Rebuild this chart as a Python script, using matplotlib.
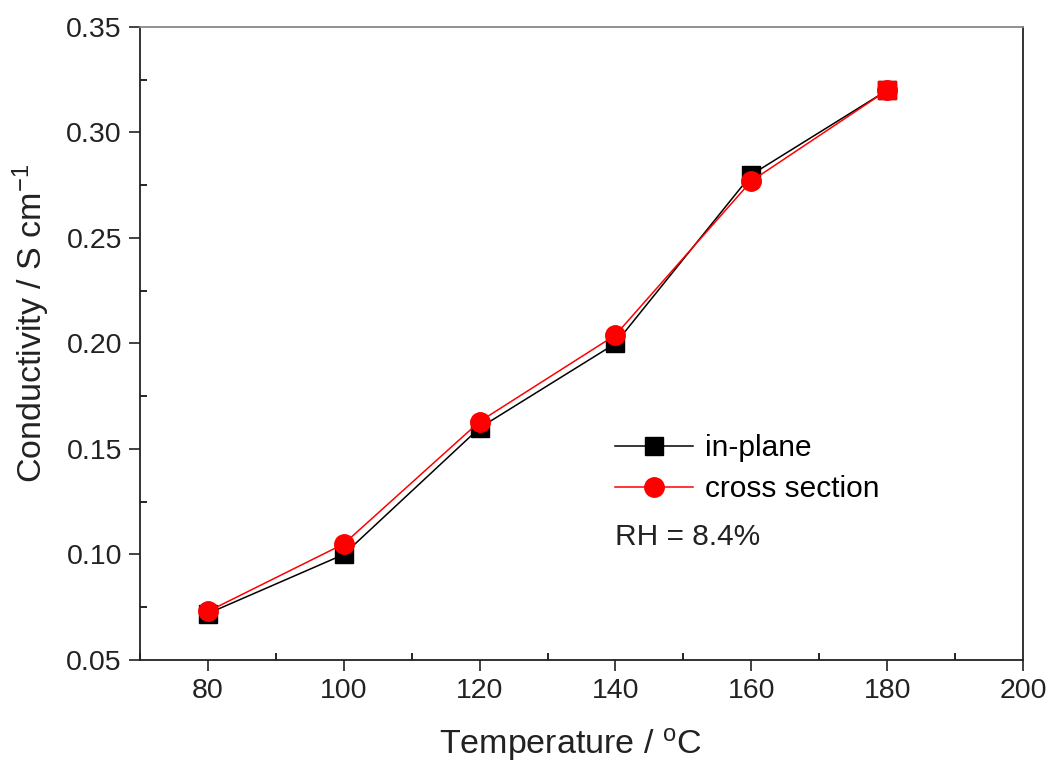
import matplotlib
matplotlib.use("Agg")
import matplotlib.pyplot as plt
from matplotlib.ticker import MultipleLocator, FormatStrFormatter

# data
temperature = [80, 100, 120, 140, 160, 180]
in_plane = [0.072, 0.100, 0.160, 0.200, 0.280, 0.320]
cross_section = [0.073, 0.105, 0.163, 0.204, 0.277, 0.320]

plt.rcParams['font.family'] = ['Liberation Sans', 'DejaVu Sans']
plt.rcParams['mathtext.fontset'] = 'custom'
plt.rcParams['mathtext.rm'] = 'Liberation Sans'
plt.rcParams['mathtext.it'] = 'Liberation Sans'

fig = plt.figure(figsize=(10.5, 7.65), dpi=100)
ax = fig.add_axes([0.1333, 0.1373, 0.8410, 0.8274])

ax.plot(temperature, in_plane, color='black', lw=1.1, marker='s', ms=13,
        label='in-plane', zorder=3)
ax.plot(temperature, cross_section, color='red', lw=1.1, marker='o', ms=14,
        label='cross section', zorder=4)
# last point of the red series is drawn as a square in the original
ax.plot(temperature[-1:], cross_section[-1:], color='red', marker='s', ms=13,
        ls='none', zorder=5)

ax.set_xlim(70, 200)
ax.set_ylim(0.05, 0.35)
ax.xaxis.set_major_locator(MultipleLocator(20))
ax.xaxis.set_minor_locator(MultipleLocator(10))
ax.yaxis.set_major_locator(MultipleLocator(0.05))
ax.yaxis.set_minor_locator(MultipleLocator(0.025))
ax.yaxis.set_major_formatter(FormatStrFormatter('%.2f'))

ax.tick_params(which='major', direction='out', length=8, width=1.2,
               labelsize=20.5, colors='#222222', pad=5)
ax.tick_params(which='minor', direction='in', length=5, width=1.2)
ax.tick_params(top=False, right=False, which='both')

for side in ['left', 'right', 'bottom']:
    ax.spines[side].set_color('#222222')
    ax.spines[side].set_linewidth(1.3)
ax.spines['top'].set_color('#888888')
ax.spines['top'].set_linewidth(1.3)

ax.set_xlabel('Temperature / $^{\\mathrm{o}}$C', fontsize=24.5, color='#222222', labelpad=16)
ax.set_ylabel('Conductivity / S cm$^{\\mathrm{-1}}$', fontsize=24.5, color='#222222', labelpad=10)
ax.xaxis.label.set_x(0.487)
ax.yaxis.label.set_y(0.532)

ax.legend(loc='upper left', bbox_to_anchor=(0.538, 0.357), frameon=False,
          fontsize=21.5, handlelength=2.6, handletextpad=0.4, labelspacing=0.45,
          borderpad=0, borderaxespad=0)
ax.text(0.538, 0.194, 'RH = 8.4%', transform=ax.transAxes, fontsize=21.5,
        color='#222222', va='center', ha='left')

fig.savefig('out.png', dpi=100)
